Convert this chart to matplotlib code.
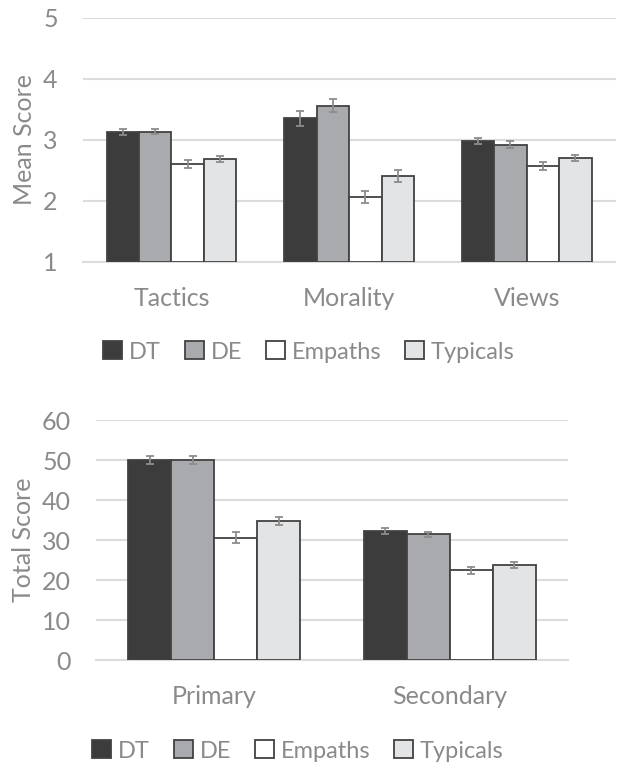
import matplotlib.pyplot as plt
from matplotlib.patches import Patch
import numpy as np

plt.rcParams['font.family'] = ['Lato', 'DejaVu Sans']

groups = ['DT', 'DE', 'Empaths', 'Typicals']
fills = ['#3c3c3c', '#a9aaad', '#ffffff', '#e3e4e6']
edge = '#424242'
err_col = '#8c8c8c'
text_gray = '#8a8a8a'
grid_gray = '#dcdcdc'

# mean scores per subscale
scales = ['Tactics', 'Morality', 'Views']
mean_vals = {
    'DT':       [3.13, 3.35, 2.98],
    'DE':       [3.13, 3.56, 2.92],
    'Empaths':  [2.60, 2.06, 2.57],
    'Typicals': [2.69, 2.41, 2.70],
}
mean_err = {
    'DT':       [0.05, 0.12, 0.055],
    'DE':       [0.04, 0.11, 0.055],
    'Empaths':  [0.065, 0.10, 0.07],
    'Typicals': [0.05, 0.10, 0.055],
}

# total scores per psychopathy type
types = ['Primary', 'Secondary']
total_vals = {
    'DT':       [50.0, 32.3],
    'DE':       [50.0, 31.4],
    'Empaths':  [30.6, 22.4],
    'Typicals': [34.8, 23.8],
}
total_err = {
    'DT':       [0.9, 0.7],
    'DE':       [0.9, 0.7],
    'Empaths':  [1.4, 0.9],
    'Typicals': [1.05, 0.75],
}

fig = plt.figure(figsize=(6.21, 7.64), dpi=100)


def draw_panel(ax, cats, vals, errs, ylim, step, ylabel):
    x = np.arange(len(cats))
    width = 0.73 / 4
    base = ylim[0]
    for i, g in enumerate(groups):
        pos = x + (i - 1.5) * width
        ax.bar(pos, np.array(vals[g]) - base, width, bottom=base,
               color=fills[i], edgecolor=edge, linewidth=1.3, zorder=3)
        ax.errorbar(pos, vals[g], yerr=errs[g], fmt='none',
                    ecolor=err_col, elinewidth=1.3, capsize=3.2,
                    capthick=1.3, zorder=4)
    ax.set_xlim(-0.5, len(cats) - 0.5)
    ax.set_ylim(*ylim)
    ax.set_yticks(np.arange(ylim[0], ylim[1] + step / 2, step))
    ax.set_xticks(x)
    ax.set_xticklabels(cats)
    ax.yaxis.grid(True, color=grid_gray, linewidth=1.5, zorder=0)
    ax.set_axisbelow(True)
    for s in ['top', 'right', 'left']:
        ax.spines[s].set_visible(False)
    ax.spines['bottom'].set_color(grid_gray)
    ax.spines['bottom'].set_linewidth(1.5)
    ax.tick_params(length=0, labelsize=18, colors=text_gray)
    ax.tick_params(axis='x', pad=18)
    ax.tick_params(axis='y', pad=18)
    ax.set_ylabel(ylabel, fontsize=18, color=text_gray, labelpad=5)


ax1 = fig.add_axes([82.7 / 621, 1 - 261.7 / 764, 532.8 / 621, 244 / 764])
draw_panel(ax1, scales, mean_vals, mean_err, (1, 5), 1, 'Mean Score')

ax2 = fig.add_axes([96.2 / 621, 1 - 660 / 764, 471.3 / 621, 240 / 764])
draw_panel(ax2, types, total_vals, total_err, (0, 60), 10, 'Total Score')

handles = [Patch(facecolor=fills[i], edgecolor=edge, linewidth=1.3, label=g)
           for i, g in enumerate(groups)]
for ypos, xpos in [(1 - 352 / 764, 309 / 621), (1 - 751 / 764, 298 / 621)]:
    leg = fig.legend(handles=handles, loc='center', bbox_to_anchor=(xpos, ypos),
                     ncol=4, frameon=False, fontsize=17, handlelength=0.8,
                     handleheight=0.8, handletextpad=0.3, columnspacing=1.0)
    for t in leg.get_texts():
        t.set_color(text_gray)

fig.savefig('out.png', dpi=100)
